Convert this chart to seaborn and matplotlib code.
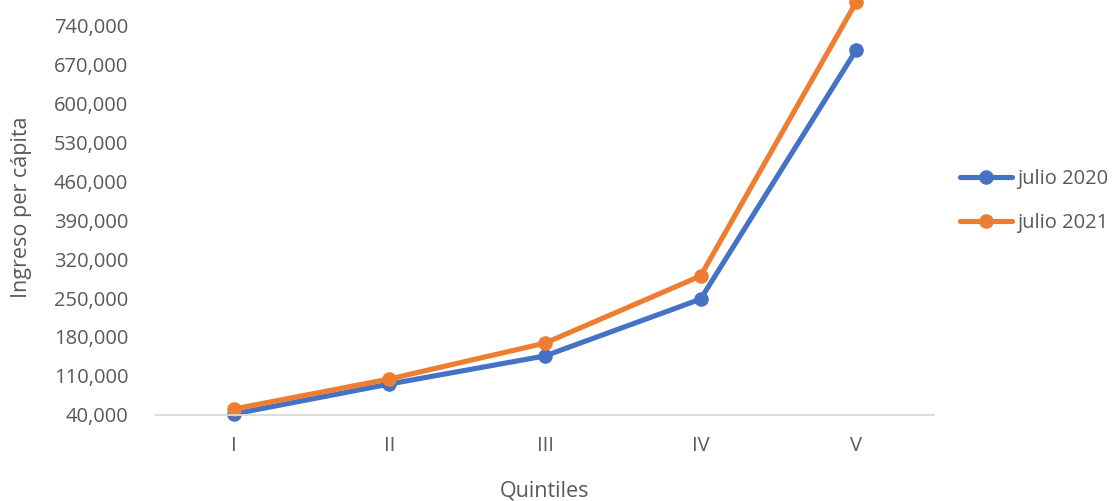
import pandas as pd
import matplotlib.pyplot as plt
import seaborn as sns
from matplotlib.ticker import FuncFormatter

# Data
quintiles = ["I", "II", "III", "IV", "V"]
julio_2020 = [41800, 95600, 146000, 248000, 695000]
julio_2021 = [50800, 104600, 169000, 289500, 781000]
series_names = ["julio 2020", "julio 2021"]

df = pd.DataFrame({
    "Quintiles": quintiles * 2,
    "Ingreso": julio_2020 + julio_2021,
    "Serie": [series_names[0]] * 5 + [series_names[1]] * 5,
})

sns.set_style("white")
plt.rcParams['font.family'] = ['Open Sans', 'DejaVu Sans']
gray = "#595959"

fig = plt.figure(figsize=(11.12, 5.01), dpi=100)
ax = fig.add_axes([0.1403, 0.1717, 0.6996, 0.8283])

sns.lineplot(data=df, x="Quintiles", y="Ingreso", hue="Serie", sort=False,
             palette=["#4472C4", "#ED7D31"], marker="o", markersize=10.5,
             markeredgewidth=0, linewidth=3.7, ax=ax, clip_on=False)

ax.set_xlim(-0.5, 4.5)
ax.set_ylim(40000, 785000)
ax.set_yticks(range(40000, 790000, 70000))
ax.yaxis.set_major_formatter(FuncFormatter(lambda v, p: f"{int(v):,}"))
ax.tick_params(axis="both", length=0, labelsize=14.5, colors=gray)
ax.tick_params(axis="y", pad=20)
ax.tick_params(axis="x", pad=15)

for s in ["top", "right", "left"]:
    ax.spines[s].set_visible(False)
ax.spines["bottom"].set_color("#d9d9d9")
ax.spines["bottom"].set_linewidth(1.3)

ax.set_xlabel("Quintiles", fontsize=15.5, color=gray, labelpad=18)
ax.set_ylabel("Ingreso per cápita", fontsize=15.5, color=gray, labelpad=16)

ax.legend(loc="center left", bbox_to_anchor=(0.856, 0.599),
          bbox_transform=fig.transFigure, frameon=False, fontsize=14.5,
          labelcolor=gray, handlelength=2.6, handletextpad=0.25,
          labelspacing=1.2, borderaxespad=0)

fig.savefig("out.png", dpi=100)
